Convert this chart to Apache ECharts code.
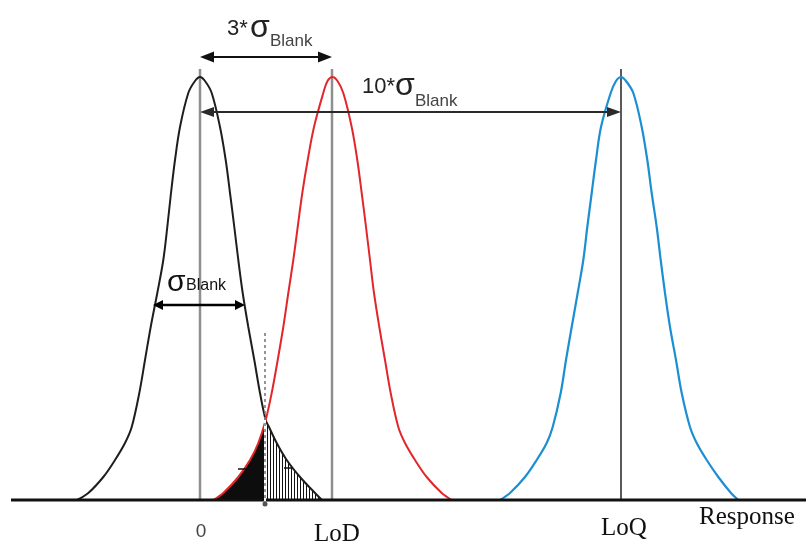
<!DOCTYPE html>
<html><head><meta charset="utf-8">
<script src="https://cdn.jsdelivr.net/npm/echarts@6/dist/echarts.min.js"></script>
<style>html,body{margin:0;padding:0;background:#fff}#c{width:806px;height:546px}</style>
</head><body><div id="c"></div>
<script>
// Response offsets (0 = blank mean) and relative frequency heights
const blankX = [-123, -111.7, -96.7, -85, -75, -68.3, -60.7, -55, -49.3, -42.7, -36.7, -32.7, -29, -25, -20, -11.7, -5, 0, 5, 11.7, 20, 25.7, 30, 34.3, 38.3, 42.7, 48.3, 54.3, 60, 65.7, 69, 76.7, 86.7, 100, 115, 122];
const blankY = [0, 7, 23, 40, 57, 73, 107, 140, 173, 207, 240, 273, 307, 340, 373, 407, 419, 423, 419, 407, 373, 340, 307, 273, 240, 207, 173, 140, 107, 80, 73, 57, 40, 23, 7, 0];

const lodX = [13.3, 23.3, 38.3, 50, 58.3, 65.7, 71.7, 77.7, 83.3, 88.3, 93.3, 97.7, 102.3, 107.7, 114, 123.3, 127.5, 132.5, 137.5, 143.3, 151.7, 157.3, 161.7, 166, 170, 174, 179.3, 185, 190.7, 198.3, 205, 215, 226.7, 241.7, 251.7];
const lodY = [0, 7, 23, 40, 57, 80, 107, 140, 173, 207, 240, 273, 307, 340, 373, 407, 419, 423, 419, 407, 373, 340, 307, 273, 240, 207, 173, 140, 107, 73, 57, 40, 23, 7, 0];

const loqX = [300, 310, 325, 336.7, 346.7, 352.7, 360.7, 366, 371.7, 377.7, 383.3, 387.3, 391.7, 396, 401, 410.7, 416, 421, 426, 433.3, 441.7, 447.3, 451.7, 456.7, 460.7, 465, 470, 476, 481.7, 490, 496.7, 506.7, 518.3, 531, 538.3];
const loqY = [0, 7, 23, 40, 57, 73, 107, 140, 173, 207, 240, 273, 307, 340, 373, 407, 419, 423, 419, 407, 373, 340, 307, 273, 240, 207, 173, 140, 107, 73, 57, 40, 23, 7, 0];

const markerX = [0, 132, 421];
const markerLabels = ['0', 'LoD', 'LoQ'];
const axisName = 'Response';
const cutoff = 65.7; // decision threshold where the two curves cross

const chart = echarts.init(document.getElementById('c'), null, {renderer: 'canvas'});
const zip = (xs, ys) => xs.map((x, i) => [x, ys[i]]);
const blackData = zip(blankX, blankY);
const redData = zip(lodX, lodY);
const blueData = zip(loqX, loqY);
const solidFill = redData.filter(p => p[0] <= cutoff);
const hatchFill = blackData.filter(p => p[0] >= cutoff);

const pc = document.createElement('canvas');
pc.width = 3; pc.height = 3;
const g = pc.getContext('2d');
g.fillStyle = '#ffffff'; g.fillRect(0, 0, 3, 3);
g.fillStyle = '#111111'; g.fillRect(0, 0, 1, 3);

const SANS = '"Liberation Sans", Arial, sans-serif';
const SERIF = '"Liberation Serif", "Times New Roman", serif';
const SM = 0.35;

function arrow(p1, p2, len, hw, color, lw) {
  const dx = p2[0] - p1[0], dy = p2[1] - p1[1];
  const L = Math.hypot(dx, dy), ux = dx / L, uy = dy / L, nx = -uy, ny = ux;
  const a = [p1[0] + ux * len, p1[1] + uy * len], b = [p2[0] - ux * len, p2[1] - uy * len];
  return [
    {type: 'line', shape: {x1: a[0] - ux, y1: a[1] - uy, x2: b[0] + ux, y2: b[1] + uy}, style: {stroke: color, lineWidth: lw}},
    {type: 'polygon', shape: {points: [p1, [a[0] + nx * hw, a[1] + ny * hw], [a[0] - nx * hw, a[1] - ny * hw]]}, style: {fill: color}},
    {type: 'polygon', shape: {points: [p2, [b[0] + nx * hw, b[1] + ny * hw], [b[0] - nx * hw, b[1] - ny * hw]]}, style: {fill: color}}
  ];
}
function txt(api, x, y, s, font, fill, align) {
  const p = api.coord([x, y]);
  return {type: 'text', style: {text: s, x: p[0], y: p[1], font: font, fill: fill, textAlign: align || 'left', textVerticalAlign: 'middle'}};
}
function curve(data, color, width) {
  return {type: 'line', data: data, smooth: SM, showSymbol: false, lineStyle: {color: color, width: width}, z: 3};
}

const option = {
  animation: false,
  backgroundColor: '#ffffff',
  grid: {left: 0, right: 0, top: 0, bottom: 46},
  xAxis: {type: 'value', min: -200, max: 606, show: false},
  yAxis: {type: 'value', min: 0, max: 500, show: false},
  series: [
    {type: 'line', data: solidFill, smooth: SM, showSymbol: false, lineStyle: {width: 0}, areaStyle: {color: '#0d0d0d', opacity: 1}, z: 1},
    {type: 'line', data: hatchFill, smooth: SM, showSymbol: false, lineStyle: {width: 0}, areaStyle: {color: {image: pc, repeat: 'repeat'}, opacity: 1}, z: 1},
    {
      type: 'custom', z: 2, clip: false, data: [0],
      renderItem: (params, api) => {
        const ch = [];
        markerX.forEach((x, i) => {
          const a = api.coord([x, 0]), b = api.coord([x, 431]);
          ch.push({type: 'line', shape: {x1: a[0], y1: a[1], x2: b[0], y2: b[1]}, style: {stroke: i === 2 ? '#5a5a5a' : '#8f8f8f', lineWidth: i === 2 ? 2 : 2.5}});
        });
        return {type: 'group', children: ch};
      }
    },
    curve(blackData, '#1e1e1e', 2),
    curve(redData, '#e3262b', 2),
    curve(blueData, '#1b8fd2', 2.2),
    {
      type: 'custom', z: 4, clip: false, data: [0],
      renderItem: (params, api) => {
        const c = (x, y) => api.coord([x, y]);
        let ch = [];
        const b0 = c(-189, 0), b1 = c(606, 0);
        ch.push({type: 'line', shape: {x1: b0[0], y1: b0[1], x2: b1[0], y2: b1[1]}, style: {stroke: '#111', lineWidth: 3}});
        const d0 = c(cutoff - 0.7, 80), d1 = c(cutoff - 0.7, -3), d2 = c(cutoff - 0.7, 167);
        ch.push({type: 'line', shape: {x1: d0[0], y1: d0[1], x2: d1[0], y2: d1[1]}, style: {stroke: '#ffffff', lineWidth: 2}});
        ch.push({type: 'line', shape: {x1: d2[0], y1: d2[1], x2: d1[0], y2: d1[1]}, style: {stroke: '#7a7a7a', lineWidth: 1.6, lineDash: [3, 3]}});
        const dot = c(cutoff - 0.7, -4);
        ch.push({type: 'circle', shape: {cx: dot[0], cy: dot[1], r: 2.5}, style: {fill: '#555'}});
        [[38, 46, 31], [84, 92, 32]].forEach(t => {
          const p = c(t[0], t[2]), q = c(t[1], t[2]);
          ch.push({type: 'line', shape: {x1: p[0], y1: p[1], x2: q[0], y2: q[1]}, style: {stroke: '#111', lineWidth: 1.5}});
        });
        ch = ch.concat(arrow(c(0, 443), c(132, 443), 14, 5.5, '#111', 2));
        ch = ch.concat(arrow(c(0, 388), c(421, 388), 14, 5, '#2a2a2a', 2));
        ch = ch.concat(arrow(c(-47, 195), c(45, 195), 10, 5, '#000', 2.5));
        ch.push(txt(api, 27, 470.6, '3*', '22px ' + SANS, '#222'));
        ch.push(txt(api, 50, 472.0, 'σ', '32px ' + SANS, '#222'));
        ch.push(txt(api, 70, 458.2, 'Blank', '17px ' + SANS, '#444'));
        ch.push(txt(api, 162, 412.6, '10*', '22px ' + SANS, '#222'));
        ch.push(txt(api, 195, 414.0, 'σ', '32px ' + SANS, '#222'));
        ch.push(txt(api, 215, 398.2, 'Blank', '17px ' + SANS, '#444'));
        ch.push(txt(api, -33, 217.0, 'σ', '30px ' + SANS, '#111'));
        ch.push(txt(api, -14, 214.6, 'Blank', '16px ' + SANS, '#111'));
        ch.push(txt(api, markerX[0] + 1, -31.4, markerLabels[0], '19px ' + SANS, '#444', 'center'));
        ch.push(txt(api, markerX[1] + 5, -34.6, markerLabels[1], '25px ' + SERIF, '#111', 'center'));
        ch.push(txt(api, markerX[2] + 3, -28.6, markerLabels[2], '25px ' + SERIF, '#111', 'center'));
        ch.push(txt(api, 547, -17.6, axisName, '25px ' + SERIF, '#111', 'center'));
        return {type: 'group', children: ch};
      }
    }
  ]
};
chart.setOption(option);
</script>
</body></html>
